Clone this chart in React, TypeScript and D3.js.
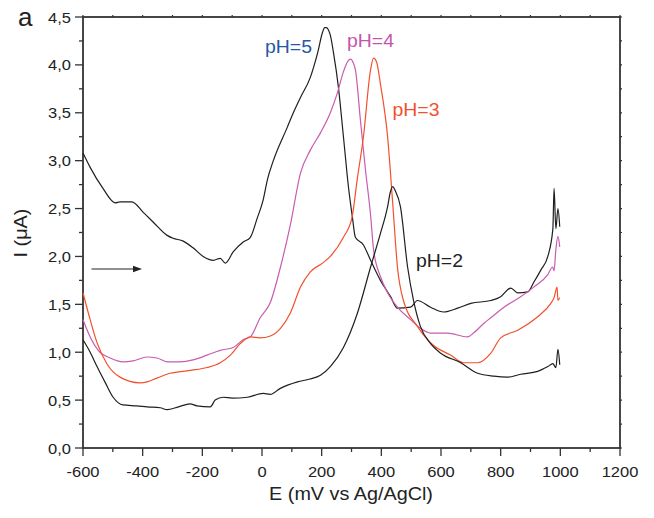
import React from "react";
import * as d3 from "d3";

const xTicks = [-600, -400, -200, 0, 200, 400, 600, 800, 1000, 1200];
const yTicks = [0, 0.5, 1, 1.5, 2, 2.5, 3, 3.5, 4, 4.5];

const ph2E = [-600,-576,-553,-525,-499,-466,-420,-385,-341,-318,-280,-241,-218,-173,-157,-130,-100,-49,4,28,60,119,160,196,229,273,320,364,397,421,430,438,446,464,488,508,531,565,599,666,723,777,824,867,924,958,975,985,992,998];
const ph2I = [1.13,1.0,0.85,0.68,0.53,0.45,0.44,0.43,0.42,0.40,0.43,0.46,0.44,0.43,0.50,0.53,0.52,0.53,0.57,0.56,0.62,0.69,0.72,0.76,0.85,1.05,1.41,1.89,2.24,2.52,2.67,2.73,2.69,2.52,1.89,1.54,1.27,1.09,0.99,0.89,0.78,0.75,0.74,0.77,0.80,0.85,0.88,0.84,1.03,0.87];

const ph3E = [-600,-576,-553,-520,-476,-409,-385,-352,-308,-241,-184,-140,-106,-73,-39,-6,28,62,95,129,162,203,229,273,302,319,340,364,374,384,397,421,438,454,474,521,555,575,632,676,723,767,800,857,924,968,979,989,992,998];
const ph3I = [1.62,1.34,1.10,0.88,0.74,0.68,0.69,0.73,0.78,0.81,0.84,0.89,0.97,1.09,1.16,1.15,1.17,1.25,1.41,1.68,1.84,1.93,2.0,2.2,2.41,2.80,3.25,3.95,4.07,4.03,3.80,3.25,2.56,1.89,1.54,1.27,1.13,1.07,0.97,0.89,0.89,0.99,1.15,1.23,1.37,1.51,1.57,1.68,1.54,1.57];

const ph4E = [-600,-576,-543,-509,-466,-432,-385,-352,-318,-274,-231,-184,-140,-96,-63,-39,-6,28,62,95,129,162,196,229,253,273,288,297,306,313,330,347,364,374,397,421,454,498,531,565,621,689,709,743,767,811,867,911,958,974,979,985,992,998];
const ph4I = [1.34,1.16,1.0,0.94,0.90,0.91,0.95,0.94,0.90,0.90,0.92,0.97,1.02,1.05,1.13,1.16,1.36,1.52,1.89,2.33,2.87,3.11,3.29,3.50,3.71,3.93,4.04,4.06,4.02,3.95,3.42,2.90,2.43,2.07,1.79,1.62,1.47,1.34,1.25,1.20,1.20,1.16,1.20,1.30,1.36,1.47,1.58,1.68,1.81,1.89,1.85,2.07,2.21,2.10];

const ph5E = [-600,-576,-533,-492,-476,-436,-398,-365,-318,-298,-264,-231,-197,-163,-140,-123,-96,-63,-39,-16,4,18,38,85,105,129,162,186,203,210,216,222,229,240,256,273,290,303,313,340,364,397,431,454,498,521,565,609,656,700,767,800,834,857,891,911,935,958,975,979,985,992,998];
const ph5I = [3.08,2.93,2.71,2.56,2.57,2.57,2.46,2.36,2.22,2.19,2.16,2.09,2.0,1.96,1.98,1.93,2.05,2.15,2.20,2.40,2.59,2.80,3.0,3.35,3.50,3.66,3.87,4.12,4.34,4.39,4.39,4.37,4.31,4.12,3.77,3.25,2.72,2.41,2.20,2.12,1.96,1.75,1.58,1.46,1.47,1.54,1.47,1.42,1.46,1.51,1.54,1.58,1.67,1.62,1.63,1.73,1.86,2.0,2.29,2.71,2.29,2.5,2.31];

const seriesNames = ["pH=5", "pH=4", "pH=3", "pH=2"];
const seriesColors = ["#1f1f1f", "#c95bb0", "#f2502c", "#1f1f1f"];
const labelColors = ["#2757a8", "#c455aa", "#f2502c", "#222222"];

const W = 654, H = 518;
const left = 83, right = 620, top = 17, bottom = 448;

const FONT = "'Liberation Sans', Arial, sans-serif";

function SText({ x, y, size, anchor = "start", color = "#222", children, rotate = 0, sx = 1.1 }: any) {
  const t = `translate(${x},${y})${rotate ? ` rotate(${rotate})` : ""} scale(${sx},1)`;
  return (
    <text transform={t} fontSize={size} fontFamily={FONT} textAnchor={anchor} fill={color}>
      {children}
    </text>
  );
}

export default function App() {
  const x = d3.scaleLinear().domain([-600, 1200]).range([left, right]);
  const y = d3.scaleLinear().domain([0, 4.5]).range([bottom, top]);

  const data = [
    d3.zip(ph5E, ph5I),
    d3.zip(ph4E, ph4I),
    d3.zip(ph3E, ph3I),
    d3.zip(ph2E, ph2I),
  ];
  const line = d3
    .line<number[]>()
    .x((d) => x(d[0]))
    .y((d) => y(d[1]))
    .curve(d3.curveMonotoneX);

  const xMinor = d3.range(-600, 1201, 100);
  const yMinor = d3.range(0, 4.51, 0.25);
  const axisColor = "#333";

  const labelPos = [
    { x: 265, y: 53 },
    { x: 347, y: 46.5 },
    { x: 392.5, y: 116 },
    { x: 416, y: 267 },
  ];

  return (
    <svg width={W} height={H} style={{ position: "absolute", left: 0, top: 0, background: "#fff" }}>
      {xMinor.map((v) => (
        <g key={"xm" + v}>
          <line x1={x(v)} x2={x(v)} y1={bottom} y2={bottom + (v % 200 === 0 ? 8 : 4)} stroke={axisColor} strokeWidth={1.3} />
          <line x1={x(v)} x2={x(v)} y1={top} y2={top - 2} stroke={axisColor} strokeWidth={1.2} />
        </g>
      ))}
      {yMinor.map((v, i) => (
        <g key={"ym" + i}>
          <line x1={left} x2={left - (i % 2 === 0 ? 8 : 4)} y1={y(v)} y2={y(v)} stroke={axisColor} strokeWidth={1.3} />
          <line x1={right} x2={right + 2} y1={y(v)} y2={y(v)} stroke={axisColor} strokeWidth={1.2} />
        </g>
      ))}
      <rect x={left} y={top} width={right - left} height={bottom - top} fill="none" stroke={axisColor} strokeWidth={1.8} />

      {xTicks.map((v) => (
        <SText key={"xl" + v} x={x(v)} y={476.5} size={15} anchor="middle">
          {String(v)}
        </SText>
      ))}
      {yTicks.map((v) => (
        <SText key={"yl" + v} x={71} y={y(v) + 5.5} size={15} anchor="end">
          {v.toFixed(1).replace(".", ",")}
        </SText>
      ))}

      {data.map((d, i) => (
        <path key={seriesNames[i]} d={line(d as any) || ""} fill="none" stroke={seriesColors[i]} strokeWidth={1.2} strokeLinejoin="round" />
      ))}

      {seriesNames.map((n, i) => (
        <SText key={"lab" + n} x={labelPos[i].x} y={labelPos[i].y} size={18} color={labelColors[i]} sx={1.08}>
          {n}
        </SText>
      ))}

      <line x1={91.5} x2={134} y1={269} y2={269} stroke="#222" strokeWidth={1.2} />
      <path d="M 142 269 L 133 265.8 L 133 272.2 Z" fill="#222" />

      <SText x={351} y={500} size={18} anchor="middle">E (mV vs Ag/AgCl)</SText>
      <SText x={27} y={233} size={18} anchor="middle" rotate={-90}>I (μA)</SText>

      <SText x={18} y={26} size={26} sx={1}>a</SText>
    </svg>
  );
}
